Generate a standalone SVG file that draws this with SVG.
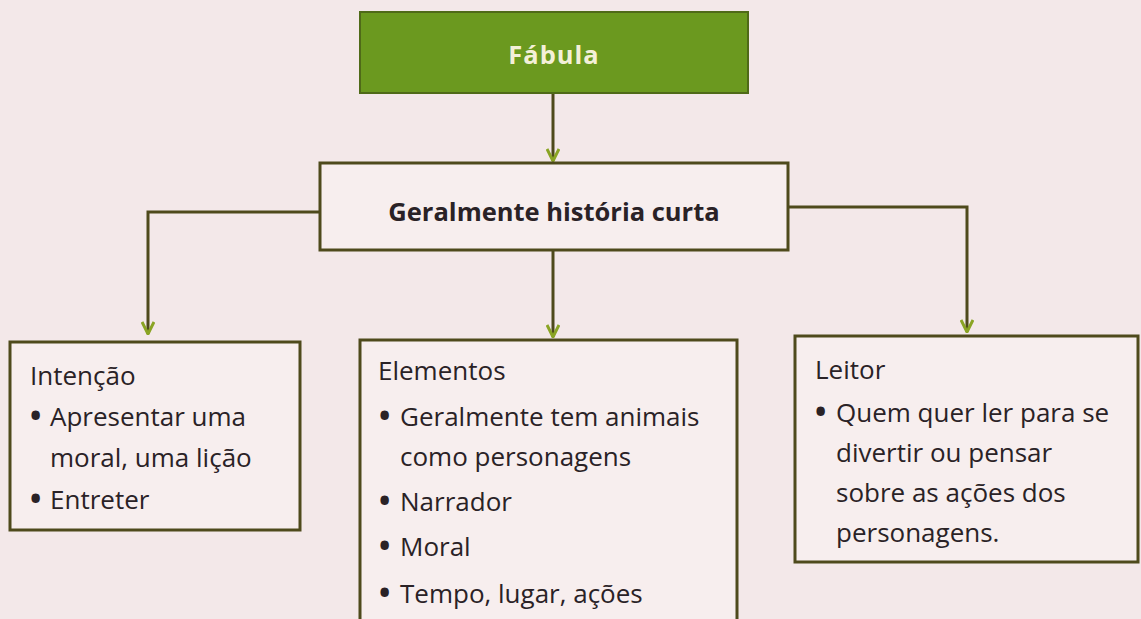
<svg xmlns="http://www.w3.org/2000/svg" width="1141" height="619" viewBox="0 0 1141 619">
<style>
.box{fill:#f7eeee;stroke:#4e4a1c;stroke-width:3}
.t{font-family:"Open Sans","Liberation Sans",sans-serif;font-size:26px;fill:#2a2226;font-weight:500}
.b{font-weight:bold;font-size:25.5px}
.u{font-size:30px;font-weight:bold}
.c{fill:none;stroke:#4e4a1c;stroke-width:3}
</style>
<defs>
<marker id="ah" viewBox="0 0 14 14" refX="13" refY="7" markerWidth="14" markerHeight="14" markerUnits="userSpaceOnUse" orient="auto">
<path d="M1,1 L13,7 L1,13" fill="none" stroke="#8aa424" stroke-width="3"/>
</marker>
</defs>
<rect width="1141" height="619" fill="#f3e8e9"/>
<g id="connectors">
<path class="c" d="M553,93 V161" marker-end="url(#ah)"/>
<path class="c" d="M320,212 H148 V334" marker-end="url(#ah)"/>
<path class="c" d="M553,250 V337" marker-end="url(#ah)"/>
<path class="c" d="M788,207 H967 V332" marker-end="url(#ah)"/>
</g>
<g id="fabula">
<rect x="360" y="12" width="388" height="81" fill="#6b991f" stroke="#4f6a18" stroke-width="2"/>
<text class="t b" x="554" y="64" text-anchor="middle" letter-spacing="1" style="fill:#f3f0d8">Fábula</text>
</g>
<g id="historia">
<rect class="box" x="320" y="163" width="468" height="87"/>
<text class="t b" x="554" y="221" text-anchor="middle">Geralmente história curta</text>
</g>
<g id="intencao">
<rect class="box" x="10" y="342" width="290" height="188"/>
<text class="t" x="30" y="385">Intenção</text>
<text class="t" x="30" y="426"><tspan class="u">•</tspan><tspan x="50">Apresentar uma</tspan></text>
<text class="t" x="50" y="467">moral, uma lição</text>
<text class="t" x="30" y="509"><tspan class="u">•</tspan><tspan x="50">Entreter</tspan></text>
</g>
<g id="elementos">
<rect class="box" x="360" y="340" width="377" height="290"/>
<text class="t" x="378" y="380">Elementos</text>
<text class="t" x="379" y="426"><tspan class="u">•</tspan><tspan x="400">Geralmente tem animais</tspan></text>
<text class="t" x="400" y="466">como personagens</text>
<text class="t" x="379" y="511"><tspan class="u">•</tspan><tspan x="400">Narrador</tspan></text>
<text class="t" x="379" y="556"><tspan class="u">•</tspan><tspan x="400">Moral</tspan></text>
<text class="t" x="379" y="603"><tspan class="u">•</tspan><tspan x="400">Tempo, lugar, ações</tspan></text>
</g>
<g id="leitor">
<rect class="box" x="795" y="336" width="343" height="226"/>
<text class="t" x="815" y="379">Leitor</text>
<text class="t" x="815" y="422"><tspan class="u">•</tspan><tspan x="836">Quem quer ler para se</tspan></text>
<text class="t" x="836" y="462">divertir ou pensar</text>
<text class="t" x="836" y="502">sobre as ações dos</text>
<text class="t" x="836" y="542">personagens.</text>
</g>
</svg>
